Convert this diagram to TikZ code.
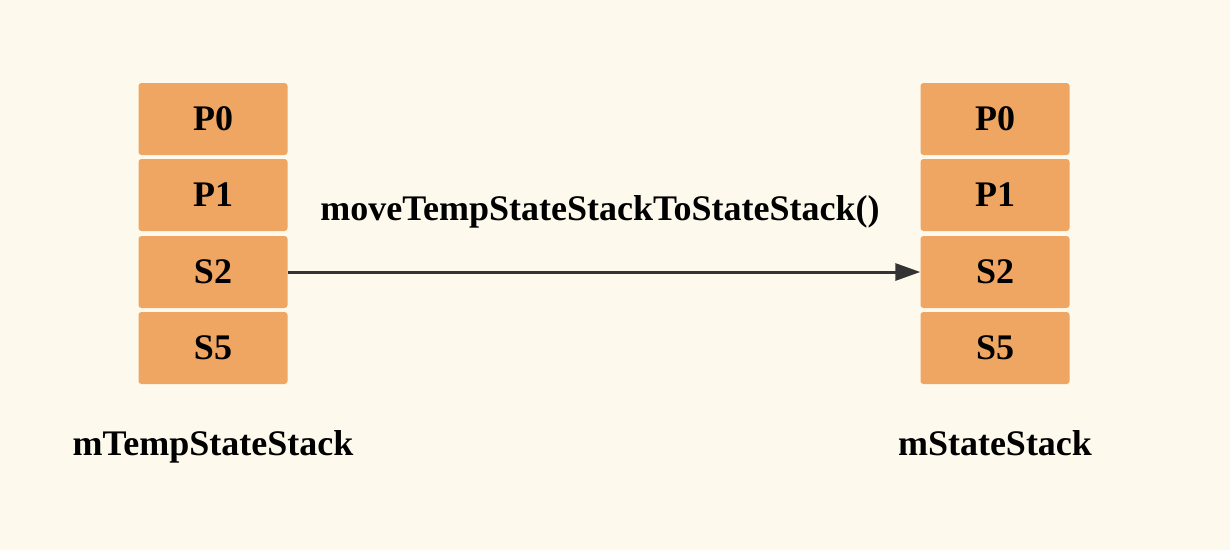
\documentclass[tikz,border=0pt]{standalone}
\usepackage{fontspec}
\setmainfont{Liberation Serif}
\usetikzlibrary{arrows.meta}
\definecolor{bg}{RGB}{253,249,236}
\definecolor{boxfill}{RGB}{239,166,98}
\definecolor{arrowcol}{RGB}{51,51,51}
\tikzset{
  cell/.style={fill=boxfill, draw=none, rounded corners=3pt, minimum width=149pt, minimum height=72pt, inner sep=0pt, font=\fontsize{36}{42}\selectfont\bfseries},
  caption/.style={font=\fontsize{36}{42}\selectfont\bfseries, inner sep=0pt, anchor=base},
  link/.style={draw=arrowcol, line width=3pt, -{Triangle[length=25pt,width=17pt]}}
}
\begin{document}
\begin{tikzpicture}[x=1pt,y=-1pt]
\fill[bg] (0,0) rectangle (1230,550);
\useasboundingbox (0,0) rectangle (1230,550);
\node[cell] (l0) at (213,119) {P0};
\node[cell] (l1) at (213,195) {P1};
\node[cell] (l2) at (213,272) {S2};
\node[cell] (l3) at (213,348) {S5};
\node[cell] (r0) at (995,119) {P0};
\node[cell] (r1) at (995,195) {P1};
\node[cell] (r2) at (995,272) {S2};
\node[cell] (r3) at (995,348) {S5};
\node[caption] (lt) at (213,455) {mTempStateStack};
\node[caption] (rt) at (995,455) {mStateStack};
\draw[link] (l2.east) -- (r2.west);
\node[caption] (lbl) at (600,220) {moveTempStateStackToStateStack()};
\end{tikzpicture}
\end{document}
